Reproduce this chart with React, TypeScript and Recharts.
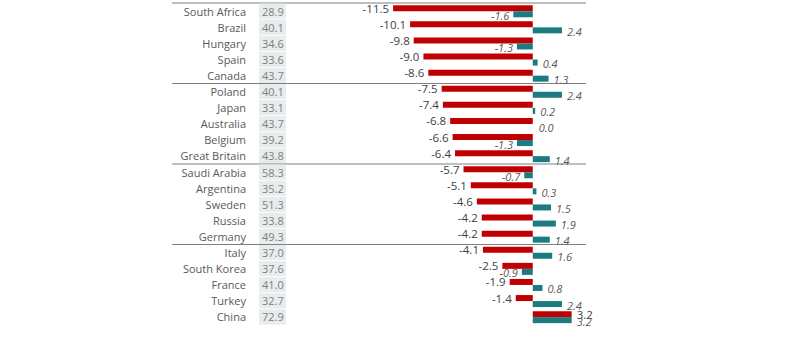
import React from 'react'
import { ComposedChart, Bar, XAxis, YAxis, LabelList } from 'recharts'

const countries = [
  'South Africa', 'Brazil', 'Hungary', 'Spain', 'Canada',
  'Poland', 'Japan', 'Australia', 'Belgium', 'Great Britain',
  'Saudi Arabia', 'Argentina', 'Sweden', 'Russia', 'Germany',
  'Italy', 'South Korea', 'France', 'Turkey', 'China',
]
const levels = [
  28.9, 40.1, 34.6, 33.6, 43.7,
  40.1, 33.1, 43.7, 39.2, 43.8,
  58.3, 35.2, 51.3, 33.8, 49.3,
  37.0, 37.6, 41.0, 32.7, 72.9,
]
const change1 = [
  -11.5, -10.1, -9.8, -9.0, -8.6,
  -7.5, -7.4, -6.8, -6.6, -6.4,
  -5.7, -5.1, -4.6, -4.2, -4.2,
  -4.1, -2.5, -1.9, -1.4, 3.2,
]
const change2 = [
  -1.6, 2.4, -1.3, 0.4, 1.3,
  2.4, 0.2, 0.0, -1.3, 1.4,
  -0.7, 0.3, 1.5, 1.9, 1.4,
  1.6, -0.9, 0.8, 2.4, 3.2,
]

const data = countries.map((name, i) => ({
  name,
  level: levels[i],
  a: change1[i],
  b: change2[i],
}))

const W = 803
const H = 342
const TOP = 3
const BOTTOM = 17
const AXIS_W = 387
const RIGHT = 218
const bandH = (H - TOP - BOTTOM) / countries.length
const plotW = W - AXIS_W - RIGHT

const FONT = '"Open Sans", sans-serif'

const RowTick = (props: any) => {
  const { x, y, payload, index } = props
  const row = data[index]
  return (
    <g>
      {index % 5 === 0 && (
        <line x1={x - 215} x2={x + plotW + 1} y1={y - bandH / 2} y2={y - bandH / 2} stroke="#7f7f7f" strokeWidth={1} />
      )}
      <text x={x - 141} y={y} textAnchor="end" dominantBaseline="central" fontSize={11} fill="#595959" fontFamily={FONT}>
        {payload.value}
      </text>
      <rect x={x - 128} y={y - bandH / 2 + 0.5} width={27} height={bandH - 1} fill="#e7ecec" />
      <text x={x - 125} y={y} dominantBaseline="central" fontSize={11} fill="#7f7f7f" fontFamily={FONT}>
        {row ? row.level.toFixed(1) : ''}
      </text>
    </g>
  )
}

const makeLabel = (italic: boolean, color: string) => (props: any) => {
  const { x, y, width, height, value } = props
  const left = Math.min(x, x + width)
  const right = Math.max(x, x + width)
  const neg = value < 0
  return (
    <text
      x={neg ? left - 4 : right + 5}
      y={y + height / 2 + (italic ? 1 : 0)}
      textAnchor={neg ? 'end' : 'start'}
      dominantBaseline="central"
      fontSize={italic ? 11 : 11.5}
      fontStyle={italic ? 'italic' : 'normal'}
      fill={color}
      fontFamily={FONT}
    >
      {Number(value).toFixed(1)}
    </text>
  )
}

// zero values keep a 1px slot so their label is still placed, but no bar is painted
const TealShape = (props: any) => {
  const { x, y, width, height, fill, payload } = props
  if (!payload || payload.b === 0) return <g />
  const left = Math.min(x, x + width)
  return <rect x={left} y={y} width={Math.abs(width)} height={height} fill={fill} />
}

export default function App() {
  return (
    <div style={{ position: 'absolute', left: 0, top: 0, width: W, height: H, background: '#fff' }}>
      <ComposedChart
        width={W}
        height={H}
        data={data}
        layout="vertical"
        margin={{ top: TOP, right: RIGHT, bottom: BOTTOM, left: 0 }}
        barCategoryGap="14%"
        barGap={0}
      >
        <XAxis type="number" domain={[-12, 4.3]} hide allowDataOverflow />
        <YAxis
          type="category"
          dataKey="name"
          width={AXIS_W}
          axisLine={false}
          tickLine={false}
          tickSize={0}
          tickMargin={0}
          interval={0}
          tick={<RowTick />}
        />
        <Bar dataKey="a" fill="#c00000" isAnimationActive={false}>
          <LabelList dataKey="a" content={makeLabel(false, '#404040')} />
        </Bar>
        <Bar dataKey="b" fill="#1b7b7e" minPointSize={1} shape={TealShape} isAnimationActive={false}>
          <LabelList dataKey="b" content={makeLabel(true, '#595959')} />
        </Bar>
      </ComposedChart>
    </div>
  )
}
